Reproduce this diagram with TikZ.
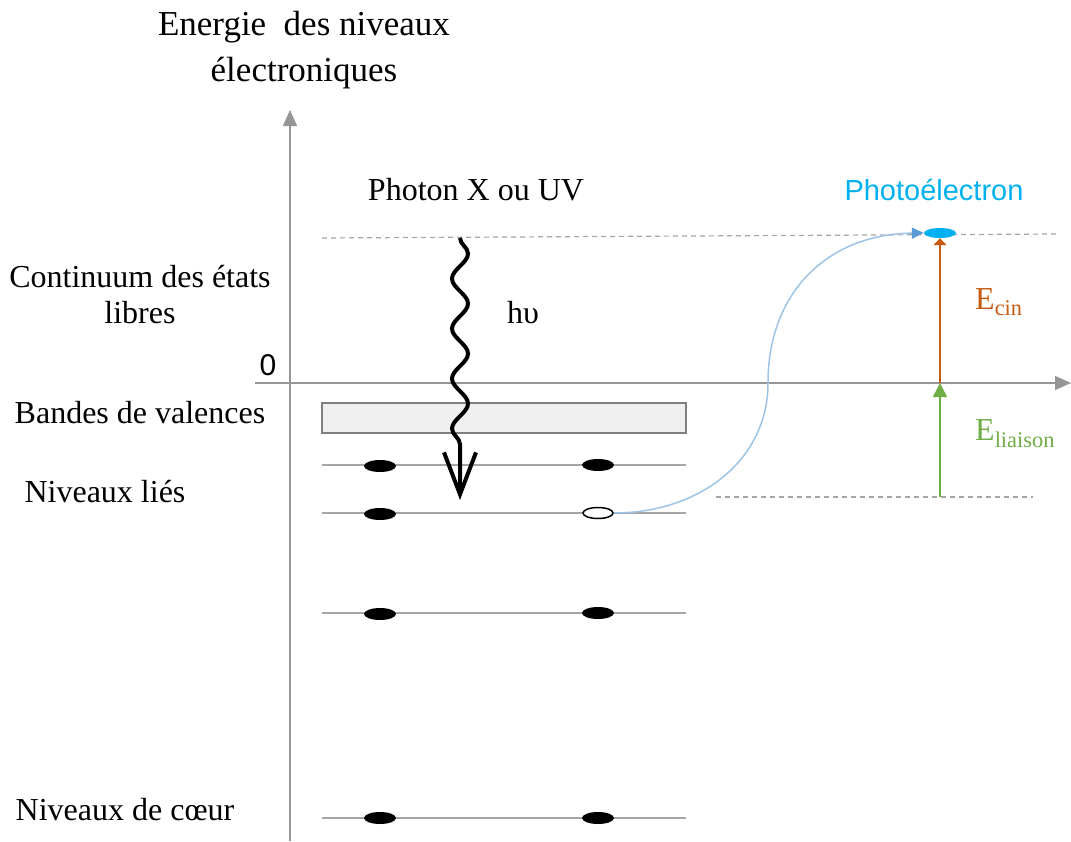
\documentclass[tikz,border=0pt]{standalone}
\usepackage{fontspec}
\setmainfont{Liberation Serif}
\newfontfamily\sansf{Liberation Sans}
\usetikzlibrary{arrows.meta,decorations.pathmorphing,shapes.geometric}
\definecolor{axisgray}{RGB}{150,150,150}
\definecolor{linegray}{RGB}{165,165,165}
\definecolor{cyantext}{RGB}{0,176,240}
\definecolor{curveblue}{RGB}{157,195,230}
\definecolor{arrowblue}{RGB}{91,155,213}
\definecolor{orangeE}{RGB}{197,90,17}
\definecolor{greenE}{RGB}{112,173,71}
\begin{document}
\begin{tikzpicture}[x=1pt,y=-1pt,
  lbl/.style={font=\fontsize{32}{36}\selectfont, inner sep=0pt},
  axisline/.style={draw=axisgray, line width=1.5pt, -{Triangle[length=16pt,width=14pt]}},
  level/.style={draw=linegray, line width=1.5pt},
  elec/.style={ellipse, fill=black, minimum width=32pt, minimum height=12pt, inner sep=0pt},
  hole/.style={ellipse, draw=black, fill=white, line width=1.5pt, minimum width=30pt, minimum height=11pt, inner sep=0pt},
  dashline/.style={draw=linegray, dash pattern=on 5pt off 4pt, line width=1.2pt},
]
\useasboundingbox (0,0) rectangle (1071,841);

% axes
\coordinate (yb) at (290,841);
\coordinate (yt) at (290,110);
\draw[axisline] (yb) -- (yt);
\coordinate (xl) at (255,383);
\coordinate (xr) at (1071,383);
\draw[axisline] (xl) -- (xr);

% dashed reference lines
\coordinate (d1l) at (322,238);
\coordinate (d1r) at (1058,234);
\draw[dashline] (d1l) -- (d1r);
\coordinate (d2l) at (716,497);
\coordinate (d2r) at (1033,497);
\draw[dashline] (d2l) -- (d2r);

% valence band
\node[draw=gray, fill=gray!12, line width=1.5pt, minimum width=364pt, minimum height=30pt, inner sep=0pt] (band) at (504,418) {};

% levels
\foreach \n/\yy in {a/465, b/513, c/613, d/818}{
  \coordinate (L\n l) at (322,\yy);
  \coordinate (L\n r) at (686,\yy);
  \draw[level] (L\n l) -- (L\n r);
}

% electrons
\node[elec] (ea1) at (380,466) {};
\node[elec] (ea2) at (598,465) {};
\node[elec] (eb1) at (380,514) {};
\node[hole] (h) at (598,513) {};
\node[elec] (ec1) at (380,614) {};
\node[elec] (ec2) at (598,613) {};
\node[elec] (ed1) at (380,818) {};
\node[elec] (ed2) at (598,818) {};

% photon
\coordinate (p0) at (460,238);
\coordinate (p1) at (460,500);
\draw[line width=4pt, decorate, decoration={snake, segment length=50pt, amplitude=8pt, post length=48pt}, -{Straight Barb[length=42pt,width=32pt]}] (p0) -- (p1);

% photoelectron
\node[ellipse, fill=cyantext, minimum width=32pt, minimum height=10pt, inner sep=0pt] (pe) at (940,233) {};
\draw[curveblue, line width=1.5pt, -{Triangle[length=12pt,width=11pt,color=arrowblue]}] (h.east) .. controls (700,513) and (768,460) .. (768,383) .. controls (768,290) and (830,234) .. (pe.west);

% energy arrows
\coordinate (o0) at (940,383);
\coordinate (g0) at (940,497);
\draw[orangeE, line width=1.5pt, -{Triangle[length=7pt,width=13pt]}] (o0) -- (pe.south);
\draw[greenE, line width=1.5pt, -{Triangle[length=14pt,width=14pt]}] (g0) -- (o0);

% labels
\node[lbl, align=center, font=\fontsize{35}{46}\selectfont] (title) at (304,50) {Energie\ \ des niveaux\\électroniques};
\node[lbl] (photon) at (476,190) {Photon X ou UV};
\node[lbl] (hnu) at (523,313) {hυ};
\node[lbl, text=cyantext, font=\sansf\fontsize{29}{34}\selectfont] (pel) at (934,190) {Photoélectron};
\node[lbl, font=\sansf\fontsize{30}{34}\selectfont] (zero) at (268,365) {0};
\node[lbl, text=orangeE, anchor=west] (ecin) at (975,302) {E\textsubscript{cin}};
\node[lbl, text=greenE, anchor=west] (elia) at (975,434) {E\textsubscript{liaison}};
\node[lbl, align=center] (cont) at (140,295) {Continuum des états\\libres};
\node[lbl] (bv) at (140,413) {Bandes de valences};
\node[lbl] (nl) at (105,492) {Niveaux liés};
\node[lbl] (nc) at (125,810) {Niveaux de cœur};
\end{tikzpicture}
\end{document}
